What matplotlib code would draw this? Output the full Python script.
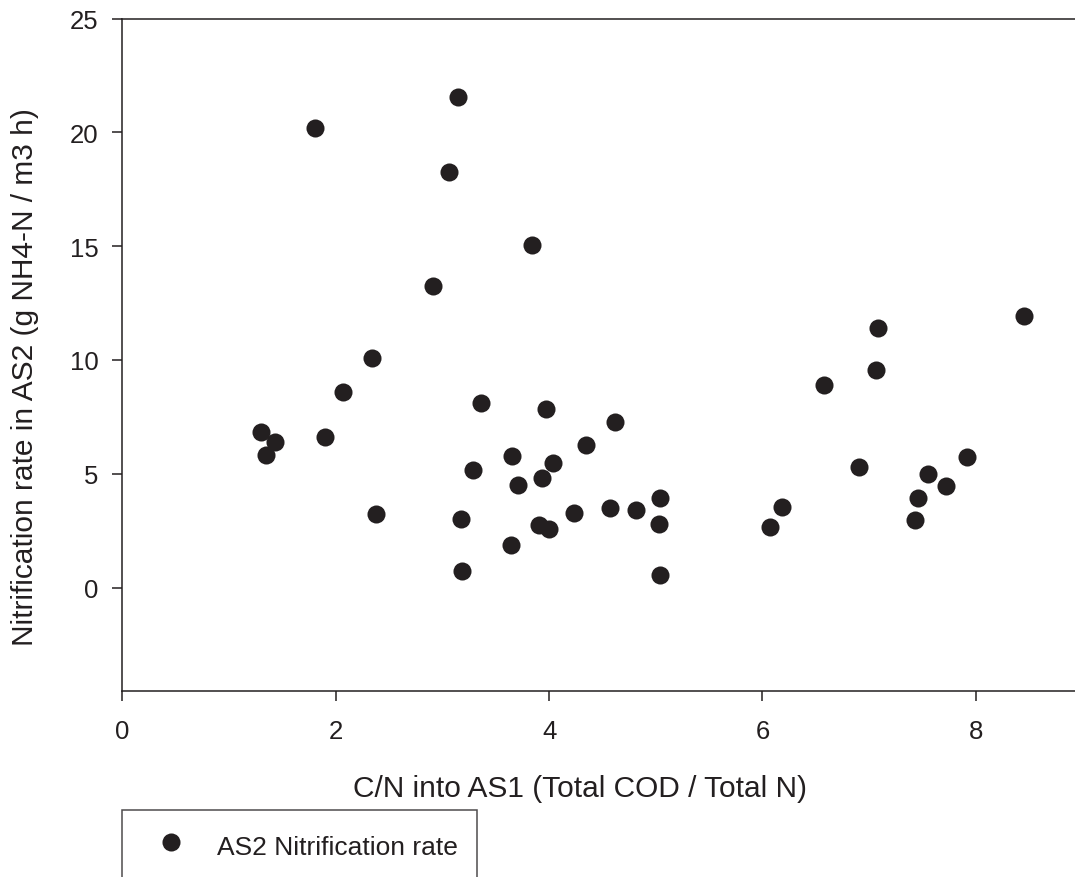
import matplotlib
matplotlib.use("Agg")
import matplotlib.pyplot as plt

plt.rcParams['font.family'] = ['Liberation Sans', 'DejaVu Sans']

# C/N ratio into AS1 (Total COD / Total N)
cn_ratio = [3.15, 1.81, 3.06, 3.84, 2.91, 2.34, 2.07, 1.30, 1.43, 1.35,
            1.90, 2.38, 3.36, 3.65, 3.29, 3.71, 3.17, 3.64, 3.18, 3.97,
            4.62, 4.35, 4.04, 3.93, 3.91, 4.00, 4.23, 4.57, 4.81, 5.04,
            5.03, 5.04, 8.45, 7.08, 7.06, 6.58, 6.90, 7.92, 7.55, 7.72,
            7.46, 6.18, 6.07, 7.43]

# AS2 nitrification rate (g NH4-N / m3 h)
nitrification = [21.55, 20.18, 18.25, 15.07, 13.24, 10.10, 8.60, 6.85, 6.39, 5.82,
                 6.62, 3.25, 8.10, 5.80, 5.18, 4.50, 3.01, 1.88, 0.71, 7.84,
                 7.29, 6.26, 5.48, 4.80, 2.76, 2.56, 3.28, 3.51, 3.42, 3.94,
                 2.81, 0.54, 11.92, 11.42, 9.58, 8.90, 5.29, 5.73, 5.01, 4.47,
                 3.95, 3.54, 2.67, 2.98]

x_ticks = [0, 2, 4, 6, 8]
y_ticks = [0, 5, 10, 15, 20, 25]

ink = '#231f20'
W, H = 1075, 878
fig = plt.figure(figsize=(W / 100, H / 100), dpi=100)

left_px, right_px = 122.3, 1075
bottom_px, top_px = 691.7, 19.5
ax = fig.add_axes([left_px / W, 1 - bottom_px / H,
                   (right_px - left_px) / W, (bottom_px - top_px) / H])

ax.plot(cn_ratio, nitrification, 'o', ls='none', color=ink,
        markersize=13, markeredgewidth=0, label='AS2 Nitrification rate',
        clip_on=False)

ax.set_xlim(0, 8.929)
ax.set_ylim(-4.53, 25)
ax.set_xticks(x_ticks)
ax.set_yticks(y_ticks)
ax.set_xticklabels([str(t) for t in x_ticks])
ax.set_yticklabels([str(t) for t in y_ticks])

for side in ('left', 'bottom', 'top'):
    ax.spines[side].set_color(ink)
    ax.spines[side].set_linewidth(1.1)
ax.spines['right'].set_visible(False)

ax.tick_params(axis='x', direction='out', length=7.2, width=1.1,
               color=ink, labelcolor=ink, labelsize=18.5, pad=13)
ax.tick_params(axis='y', direction='out', length=7.2, width=1.1,
               color=ink, labelcolor=ink, labelsize=18.5, pad=10)
ax.tick_params(top=False, right=False)

ax.set_xlabel('C/N into AS1 (Total COD / Total N)', fontsize=21.5, color=ink)
ax.set_ylabel('Nitrification rate in AS2 (g NH4-N / m3 h)', fontsize=21.5, color=ink)
ax_w = right_px - left_px
ax_h = bottom_px - top_px
ax.xaxis.set_label_coords((579.7 - left_px) / ax_w, (bottom_px - 775) / ax_h)
ax.yaxis.set_label_coords((39 - left_px) / ax_w, (bottom_px - 377.5) / ax_h)

leg = fig.legend(loc='upper left', bbox_to_anchor=(122.3 / W, 1 - 811 / H),
                 borderaxespad=0, fontsize=19, frameon=True, fancybox=False,
                 borderpad=0.73, handlelength=2.22, handletextpad=0.62,
                 handleheight=1.55, numpoints=1)
frame = leg.get_frame()
frame.set_edgecolor(ink)
frame.set_linewidth(1.1)
frame.set_facecolor('white')
for txt in leg.get_texts():
    txt.set_color(ink)

fig.savefig('out.png', dpi=100)
